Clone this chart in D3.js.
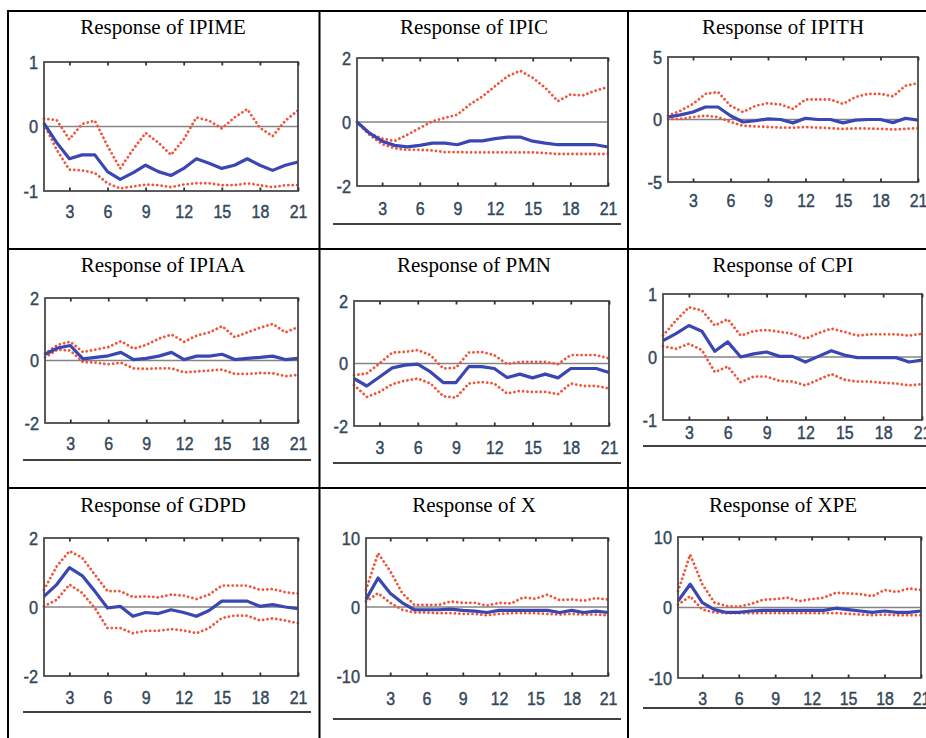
<!DOCTYPE html>
<html>
<head>
<meta charset="utf-8">
<script src="https://cdn.jsdelivr.net/npm/d3@7/dist/d3.min.js"></script>
<style>
  html, body { margin: 0; padding: 0; background: #fff; }
  svg { display: block; }
</style>
</head>
<body>
<svg id="chart" width="926" height="738"></svg>
<script>
// ---------------- DATA ----------------
const periods = d3.range(1, 22);               // 1..21
const xTickValues = [3, 6, 9, 12, 15, 18, 21];

const titles = ["Response of IPIME", "Response of IPIC", "Response of IPITH",
                "Response of IPIAA", "Response of PMN", "Response of CPI",
                "Response of GDPD", "Response of X", "Response of XPE"];
const yDomains = [[-1, 1], [-2, 2], [-5, 5], [-2, 2], [-2, 2], [-1, 1], [-2, 2], [-10, 10], [-10, 10]];

const ipime_irf = [0.05,-0.25,-0.5,-0.44,-0.44,-0.7,-0.82,-0.72,-0.6,-0.7,-0.76,-0.65,-0.5,-0.57,-0.65,-0.6,-0.5,-0.6,-0.68,-0.6,-0.55];
const ipime_hi  = [0.12,0.1,-0.2,0.04,0.09,-0.3,-0.65,-0.36,-0.1,-0.25,-0.44,-0.2,0.14,0.09,-0.03,0.14,0.27,-0.02,-0.15,0.09,0.25];
const ipime_lo  = [0.04,-0.36,-0.67,-0.68,-0.72,-0.88,-0.96,-0.93,-0.9,-0.91,-0.94,-0.9,-0.88,-0.88,-0.91,-0.91,-0.88,-0.91,-0.94,-0.91,-0.91];

const ipic_irf = [0,-0.35,-0.6,-0.73,-0.78,-0.73,-0.66,-0.66,-0.71,-0.59,-0.59,-0.52,-0.47,-0.47,-0.6,-0.66,-0.71,-0.71,-0.71,-0.71,-0.78];
const ipic_hi  = [0,-0.35,-0.52,-0.59,-0.4,-0.19,0.02,0.13,0.23,0.55,0.8,1.12,1.43,1.6,1.38,1.07,0.65,0.86,0.83,0.98,1.09];
const ipic_lo  = [0,-0.4,-0.69,-0.82,-0.87,-0.87,-0.89,-0.94,-0.94,-0.95,-0.95,-0.95,-0.95,-0.95,-0.95,-0.97,-1.0,-1.0,-1.0,-1.0,-1.0];

const ipith_irf = [0.2,0.37,0.6,1.0,1.0,0.3,-0.2,-0.1,0.05,0,-0.27,0.1,0,0,-0.27,-0.05,0,0,-0.25,0.1,-0.05];
const ipith_hi  = [0.3,0.7,1.25,2.05,2.2,1.1,0.6,1.1,1.3,1.2,0.85,1.6,1.6,1.6,1.25,1.8,2.05,2.05,1.85,2.7,2.9];
const ipith_lo  = [0.05,0.05,0.2,0.3,0.2,-0.2,-0.5,-0.55,-0.6,-0.65,-0.65,-0.6,-0.65,-0.7,-0.75,-0.72,-0.72,-0.75,-0.8,-0.75,-0.7];

const ipiaa_irf = [0.2,0.4,0.48,0.05,0.1,0.15,0.26,0.03,0.07,0.14,0.26,0.03,0.14,0.14,0.2,0.03,0.07,0.1,0.14,0.03,0.07];
const ipiaa_hi  = [0.22,0.5,0.6,0.27,0.35,0.43,0.62,0.38,0.5,0.7,0.83,0.6,0.8,0.9,1.1,0.75,0.9,1.05,1.17,0.9,1.07];
const ipiaa_lo  = [0.1,0.35,0.32,-0.05,-0.07,-0.12,-0.07,-0.25,-0.27,-0.25,-0.25,-0.38,-0.35,-0.32,-0.29,-0.43,-0.43,-0.4,-0.41,-0.5,-0.46];

const pmn_irf = [-0.48,-0.72,-0.43,-0.14,-0.05,-0.02,-0.27,-0.61,-0.61,-0.1,-0.1,-0.16,-0.45,-0.34,-0.46,-0.34,-0.46,-0.16,-0.16,-0.16,-0.29];
const pmn_hi  = [-0.37,-0.32,0,0.35,0.37,0.43,0.27,-0.16,-0.14,0.35,0.37,0.27,-0.02,0.05,0.05,0.05,-0.02,0.27,0.27,0.27,0.16];
const pmn_lo  = [-0.69,-1.07,-0.91,-0.66,-0.55,-0.48,-0.64,-1.05,-1.09,-0.64,-0.59,-0.64,-0.96,-0.88,-0.91,-0.91,-0.98,-0.64,-0.72,-0.72,-0.8];

const cpi_irf = [0.26,0.37,0.5,0.41,0.09,0.24,0,0.05,0.08,0.01,0.01,-0.08,0.01,0.1,0.03,-0.01,-0.01,-0.01,-0.01,-0.08,-0.05];
const cpi_hi  = [0.34,0.58,0.79,0.74,0.5,0.6,0.34,0.41,0.43,0.4,0.37,0.29,0.38,0.45,0.4,0.34,0.36,0.36,0.36,0.34,0.37];
const cpi_lo  = [0.17,0.13,0.21,0.11,-0.24,-0.15,-0.4,-0.31,-0.31,-0.38,-0.39,-0.45,-0.36,-0.27,-0.36,-0.39,-0.39,-0.41,-0.42,-0.45,-0.43];

const gdpd_irf = [0.31,0.65,1.14,0.91,0.46,-0.03,0.02,-0.27,-0.16,-0.19,-0.08,-0.16,-0.27,-0.1,0.17,0.17,0.17,0.02,0.07,0,-0.05];
const gdpd_hi  = [0.5,1.18,1.62,1.43,0.94,0.46,0.46,0.29,0.31,0.28,0.36,0.33,0.23,0.36,0.62,0.62,0.62,0.5,0.52,0.43,0.39];
const gdpd_lo  = [0.02,0.21,0.65,0.41,-0.03,-0.61,-0.61,-0.76,-0.69,-0.69,-0.64,-0.68,-0.76,-0.61,-0.32,-0.25,-0.25,-0.39,-0.33,-0.39,-0.47];

const x_irf = [1.1,4.2,2.0,0.6,-0.4,-0.4,-0.4,-0.3,-0.5,-0.6,-0.8,-0.5,-0.5,-0.5,-0.5,-0.5,-0.8,-0.5,-0.8,-0.6,-0.8];
const x_hi  = [2.5,7.8,5.2,2.0,0.3,0.3,0.3,0.8,0.6,0.6,0.2,0.6,0.5,1.4,1.2,1.8,1.0,1.1,0.9,1.3,1.1];
const x_lo  = [0.8,2.0,0.6,-0.4,-0.8,-0.8,-0.9,-0.9,-1.0,-1.0,-1.2,-1.0,-0.9,-0.9,-0.9,-1.0,-1.1,-1.0,-1.1,-1.1,-1.2];

const xpe_irf = [0.9,3.3,0.7,-0.3,-0.7,-0.7,-0.5,-0.4,-0.4,-0.4,-0.4,-0.4,-0.4,-0.1,-0.3,-0.5,-0.7,-0.5,-0.7,-0.7,-0.5];
const xpe_hi  = [2.3,7.5,3.3,0.7,0.2,0.1,0.5,1.1,1.2,1.4,0.9,1.2,1.4,2.1,2.0,1.9,1.6,2.5,2.2,2.7,2.5];
const xpe_lo  = [0.4,1.6,-0.3,-0.7,-0.8,-0.8,-0.8,-0.8,-0.8,-0.8,-0.8,-0.8,-0.8,-0.8,-0.9,-1.0,-1.1,-1.0,-1.1,-1.1,-1.1];

const irfSeries   = [ipime_irf, ipic_irf, ipith_irf, ipiaa_irf, pmn_irf, cpi_irf, gdpd_irf, x_irf, xpe_irf];
const upperSeries = [ipime_hi, ipic_hi, ipith_hi, ipiaa_hi, pmn_hi, cpi_hi, gdpd_hi, x_hi, xpe_hi];
const lowerSeries = [ipime_lo, ipic_lo, ipith_lo, ipiaa_lo, pmn_lo, cpi_lo, gdpd_lo, x_lo, xpe_lo];

// ---------------- LAYOUT ----------------
// plot rect [left, top, right, bottom], title centre x / baseline y, x-label padding
const layout = [
  {L: 44,  T: 62,  R: 298, B: 191, tx: 163, ty: 34,  pad: 13.5},
  {L: 357, T: 58,  R: 608, B: 186, tx: 474, ty: 34,  pad: 15.5},
  {L: 668, T: 57,  R: 918, B: 182, tx: 783, ty: 34,  pad: 11.5},
  {L: 45,  T: 298, R: 298, B: 423, tx: 163, ty: 272, pad: 13.5},
  {L: 354, T: 301, R: 609, B: 426, tx: 474, ty: 272, pad: 14.5},
  {L: 663, T: 294, R: 922, B: 420, tx: 783, ty: 272, pad: 5.5},
  {L: 44,  T: 538, R: 298, B: 676, tx: 163, ty: 512, pad: 14.5},
  {L: 366, T: 538, R: 608, B: 676, tx: 474, ty: 512, pad: 15.5},
  {L: 678, T: 537, R: 921, B: 678, tx: 783, ty: 512, pad: 13.5}
];
// underlines below charts: [x1, x2, y]
const underlines = [[333,621,224],[23,311,460],[333,621,463],[643,926,446],[23,311,712],[333,621,719],[643,926,708]];

const svg = d3.select("#chart");

// table grid
const grid = svg.append("g").attr("stroke", "#000").attr("stroke-width", 2);
[[8, 11, 926, 11], [8, 249, 926, 249], [8, 488, 926, 488],
 [8, 10, 8, 738], [319.5, 10, 319.5, 738], [628, 10, 628, 738]].forEach(l =>
  grid.append("line").attr("x1", l[0]).attr("y1", l[1]).attr("x2", l[2]).attr("y2", l[3]));

svg.append("g").selectAll("line").data(underlines).join("line")
  .attr("x1", d => d[0]).attr("x2", d => d[1]).attr("y1", d => d[2]).attr("y2", d => d[2])
  .attr("stroke", "#000").attr("stroke-width", 1.4);

const labelColor = "#33475a";

layout.forEach((p, i) => {
  const g = svg.append("g");
  const x = d3.scaleLinear().domain([1, 21]).range([p.L, p.R]);
  const y = d3.scaleLinear().domain(yDomains[i]).range([p.B, p.T]);

  // title
  g.append("text").attr("x", p.tx).attr("y", p.ty)
    .attr("text-anchor", "middle")
    .attr("font-family", "'Liberation Serif', 'Times New Roman', serif")
    .attr("font-size", 21).attr("fill", "#000")
    .text(titles[i]);

  // zero line
  g.append("line").attr("x1", p.L).attr("x2", p.R).attr("y1", y(0)).attr("y2", y(0))
    .attr("stroke", "#858585").attr("stroke-width", 1.7);

  const line = d3.line().x((d, k) => x(periods[k])).y(d => y(d));

  // bands (dotted)
  [upperSeries[i], lowerSeries[i]].forEach(s => {
    g.append("path").datum(s).attr("d", line)
      .attr("fill", "none").attr("stroke", "#f0553a")
      .attr("stroke-width", 2.8).attr("stroke-linecap", "round")
      .attr("stroke-dasharray", "0.01 4.4");
  });
  // response
  g.append("path").datum(irfSeries[i]).attr("d", line)
    .attr("fill", "none").attr("stroke", "#3a47b3")
    .attr("stroke-width", 3.2).attr("stroke-linejoin", "round");

  // frame
  g.append("rect").attr("x", p.L).attr("y", p.T).attr("width", p.R - p.L).attr("height", p.B - p.T)
    .attr("fill", "none").attr("stroke", "#4a4a4a").attr("stroke-width", 1.8);

  // x axis bottom (labels + inward ticks)
  const xb = g.append("g").attr("transform", `translate(0,${p.B})`)
    .call(d3.axisBottom(x).tickValues(xTickValues).tickSizeInner(-3.5).tickSizeOuter(0).tickPadding(p.pad));
  xb.select(".domain").remove();
  xb.selectAll("line").attr("stroke", "#333").attr("stroke-width", 1.8);
  xb.selectAll("text").attr("font-family", "'Liberation Sans', Arial, sans-serif")
    .attr("font-size", 19).attr("fill", labelColor)
    .attr("stroke", labelColor).attr("stroke-width", 0.45)
    .attr("transform", "scale(0.84,1)");

  // top inward ticks
  const xt = g.append("g").attr("transform", `translate(0,${p.T})`)
    .call(d3.axisTop(x).tickValues(xTickValues).tickSizeInner(-3.5).tickSizeOuter(0).tickFormat(""));
  xt.select(".domain").remove();
  xt.selectAll("line").attr("stroke", "#333").attr("stroke-width", 1.8);

  // y labels
  const ya = g.append("g").attr("transform", `translate(${p.L},0)`)
    .call(d3.axisLeft(y).tickValues([yDomains[i][0], 0, yDomains[i][1]]).tickSize(0).tickPadding(6)
      .tickFormat(d => String(d)));
  ya.select(".domain").remove();
  ya.selectAll("text").attr("font-family", "'Liberation Sans', Arial, sans-serif")
    .attr("font-size", 19).attr("fill", labelColor)
    .attr("stroke", labelColor).attr("stroke-width", 0.45)
    .attr("transform", "scale(0.86,1)")
    .attr("x", -6 / 0.86);
});
</script>
</body>
</html>
